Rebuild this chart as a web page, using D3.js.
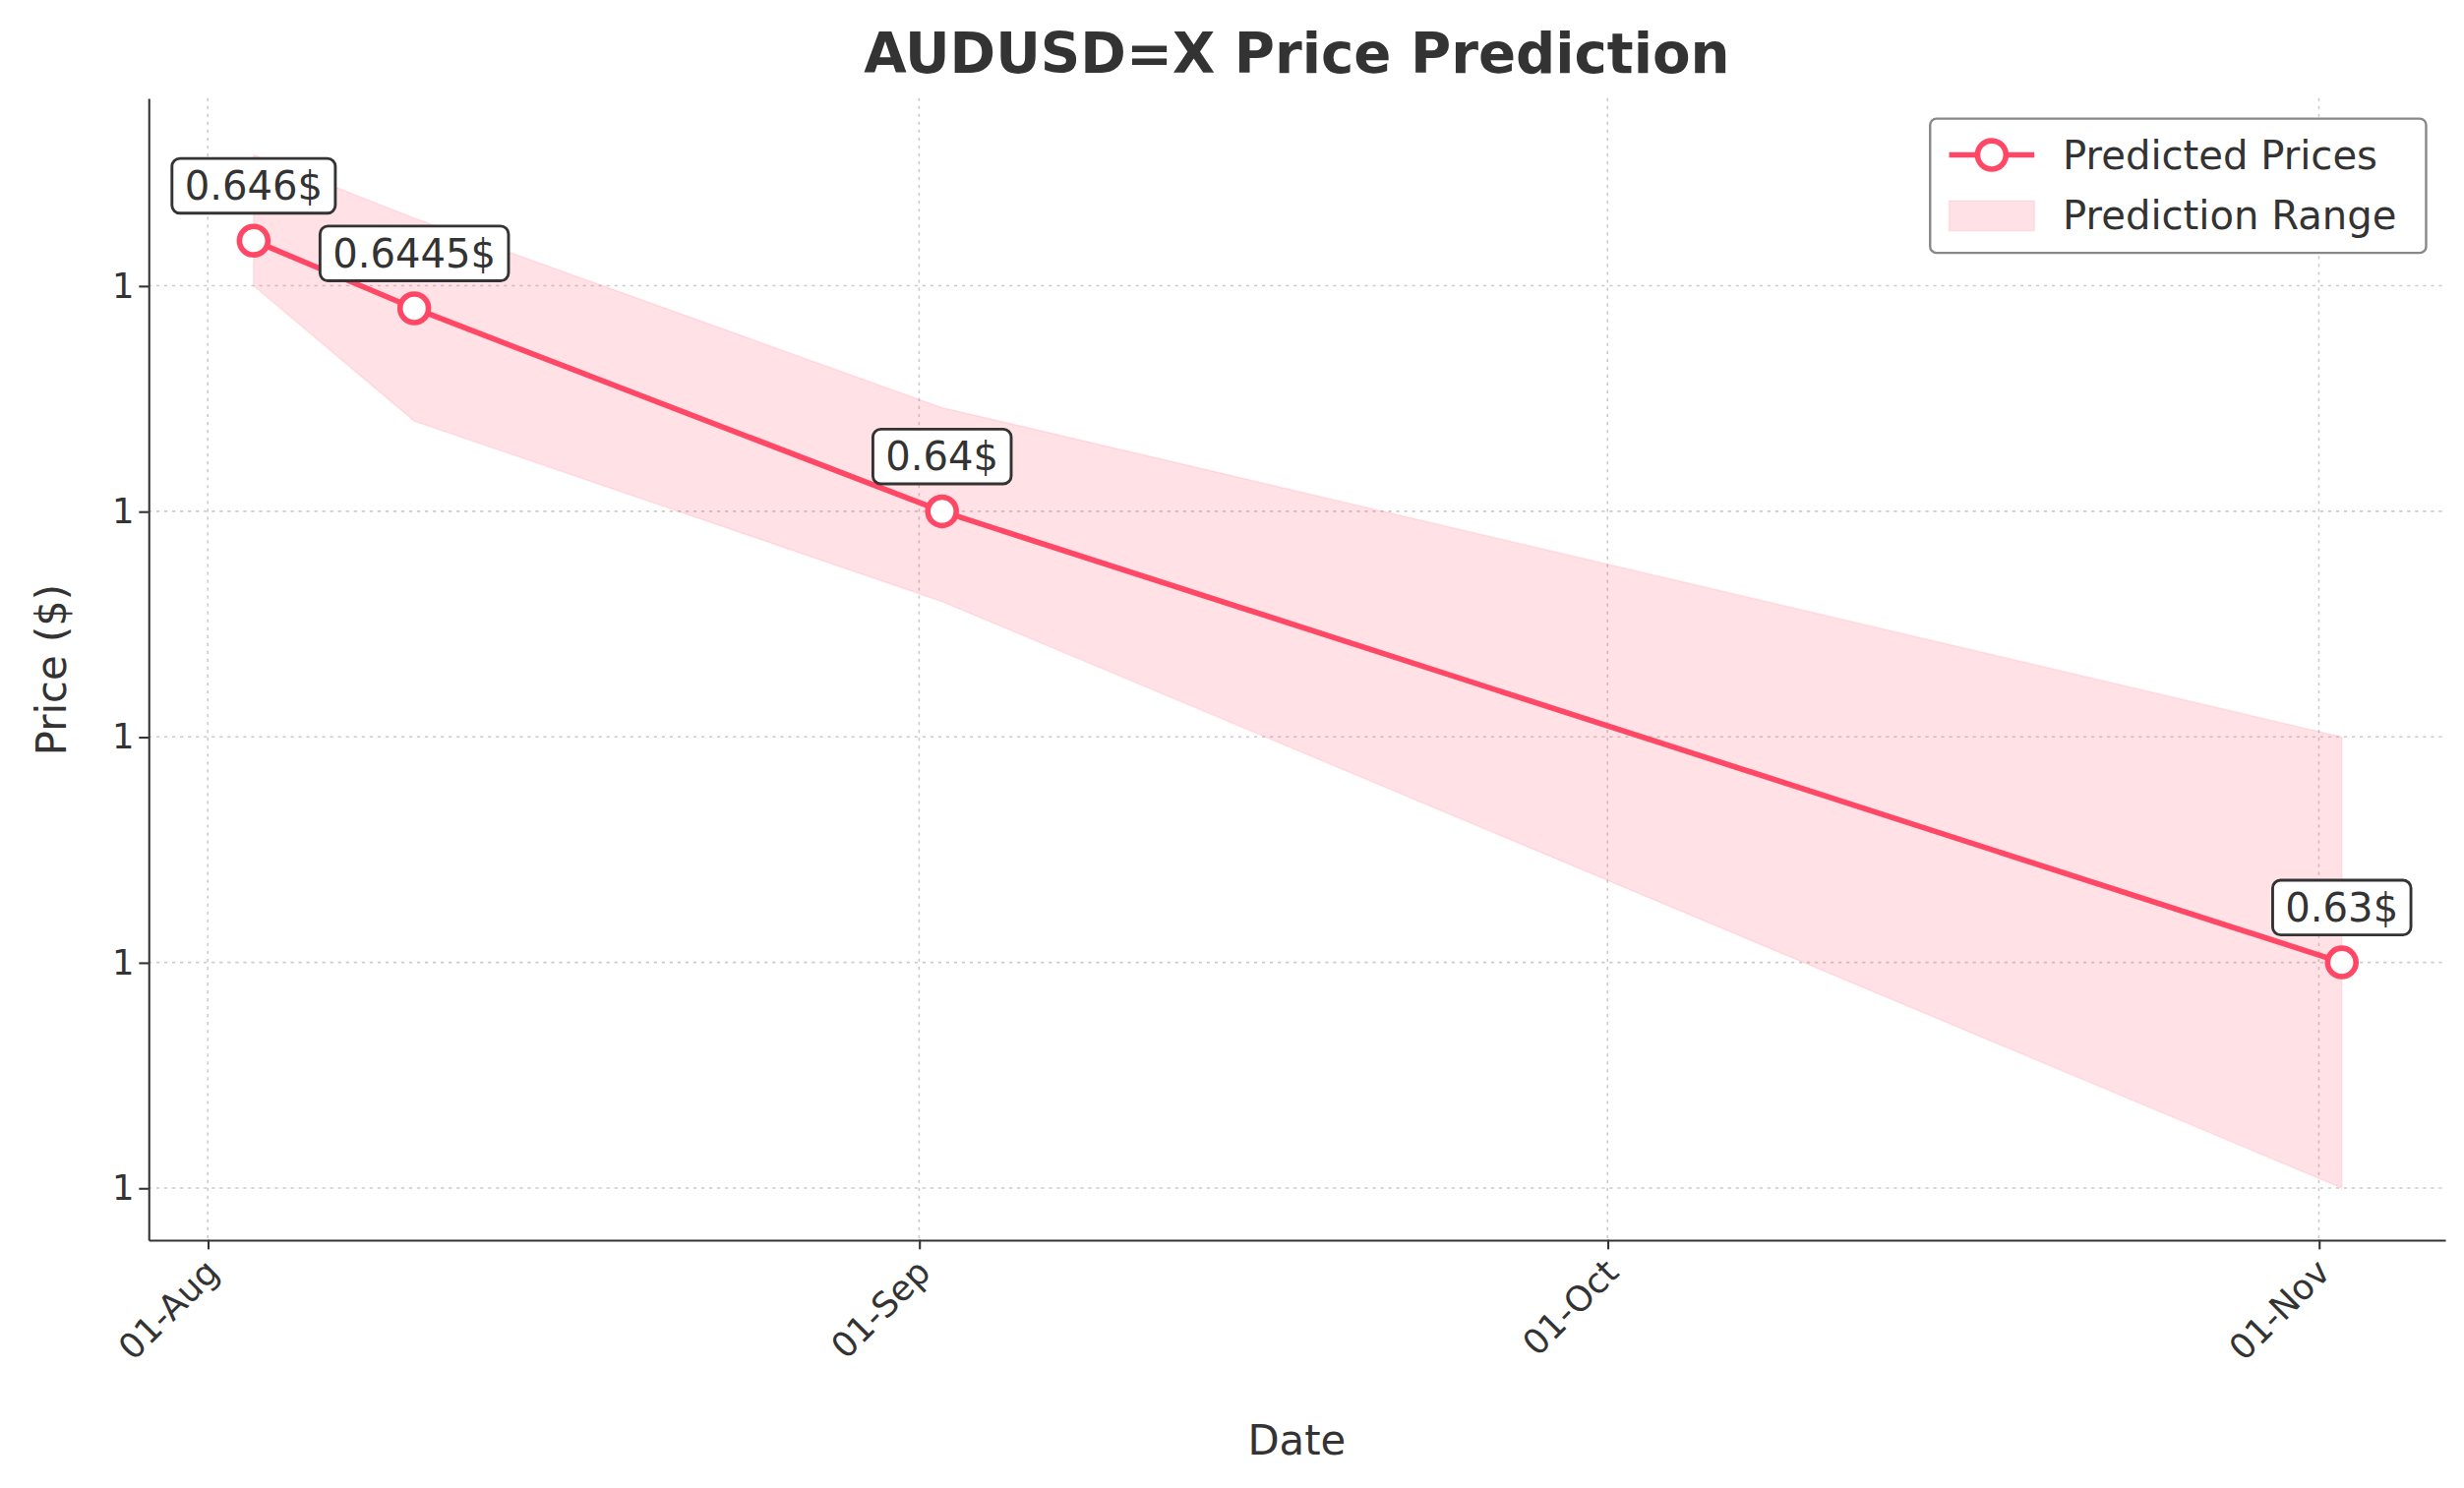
<!DOCTYPE html>
<html><head><meta charset="utf-8">
<script src="https://cdn.jsdelivr.net/npm/d3@7"></script>
<style>body{margin:0;background:#fff}text{font-family:"DejaVu Sans",sans-serif;fill:#333}</style>
</head><body><svg id="c" width="2505" height="1513" viewBox="0 0 1560 942"></svg>
<script>
// chart data
const dates = ["2024-08-03", "2024-08-10", "2024-09-02", "2024-11-02"];
const predicted = [0.646, 0.6445, 0.64, 0.63];
const upper = [0.6479, 0.6465, 0.6423, 0.635];
const lower = [0.645, 0.6420, 0.638, 0.625];
const labels = ["0.646$", "0.6445$", "0.64$", "0.63$"];
const yTicks = [0.625, 0.63, 0.635, 0.64, 0.645];
const xTicks = ["2024-08-01", "2024-09-01", "2024-10-01", "2024-11-01"];

const parse = d3.timeParse("%Y-%m-%d");
const rows = dates.map((d, i) => ({d: parse(d), p: predicted[i], hi: upper[i], lo: lower[i], l: labels[i]}));
const svg = d3.select("#c");
const m = {l: 94, r: 1548, t: 62, b: 785};
const x = d3.scaleTime().domain([new Date(2024, 6, 29, 10), new Date(2024, 10, 6, 12)]).range([m.l, m.r]);
const y = d3.scaleLinear().domain([0.62385, 0.64916]).range([m.b, m.t]);
const col = "#ff4766";

// grid
svg.append("g").selectAll("line").data(xTicks).join("line")
  .attr("x1", d => x(parse(d))).attr("x2", d => x(parse(d))).attr("y1", m.t).attr("y2", m.b)
  .attr("stroke", "#ccc").attr("stroke-dasharray", "2,3");
svg.append("g").selectAll("line").data(yTicks).join("line")
  .attr("x1", m.l).attr("x2", m.r).attr("y1", d => y(d)).attr("y2", d => y(d))
  .attr("stroke", "#ccc").attr("stroke-dasharray", "2,3");

// band
svg.append("path").datum(rows)
  .attr("d", d3.area().x(d => x(d.d)).y0(d => y(d.lo)).y1(d => y(d.hi)))
  .attr("fill", col).attr("fill-opacity", 0.16).attr("stroke", col).attr("stroke-opacity", 0.1);
svg.append("path").datum(rows)
  .attr("d", d3.line().x(d => x(d.d)).y(d => y(d.p)))
  .attr("fill", "none").attr("stroke", col).attr("stroke-width", 3.5);
svg.append("g").selectAll("circle").data(rows).join("circle")
  .attr("cx", d => x(d.d)).attr("cy", d => y(d.p)).attr("r", 9)
  .attr("fill", "#fff").attr("stroke", col).attr("stroke-width", 3.5);

// annotations
rows.forEach(d => {
  const g = svg.append("g");
  const t = g.append("text").attr("x", x(d.d)).attr("y", y(d.p) - 26).attr("text-anchor", "middle")
    .attr("font-size", 25).text(d.l);
  const b = t.node().getBBox();
  g.insert("rect", "text").attr("x", b.x - 8).attr("y", b.y - 3).attr("width", b.width + 16).attr("height", b.height + 6)
    .attr("rx", 5).attr("fill", "#fff").attr("stroke", "#333").attr("stroke-width", 1.8);
});

// axes
const xa = svg.append("g").attr("transform", `translate(0,${m.b})`)
  .call(d3.axisBottom(x).tickValues(xTicks.map(parse)).tickFormat(d3.timeFormat("%d-%b")).tickSize(6).tickSizeOuter(0));
xa.selectAll("text").attr("font-size", 22).attr("text-anchor", "end")
  .attr("transform", "translate(-4,10) rotate(-45)").attr("dy", "0.35em").attr("dx", 0);
const ya = svg.append("g").attr("transform", `translate(${m.l},0)`)
  .call(d3.axisLeft(y).tickValues(yTicks).tickFormat(d => d3.format(".0f")(d + 0.5)).tickSize(6).tickSizeOuter(0));
ya.selectAll("text").attr("font-size", 22);
svg.selectAll(".domain, .tick line").attr("stroke", "#333").attr("stroke-width", 1.3);

// titles
svg.append("text").attr("x", 821).attr("y", 46).attr("text-anchor", "middle").attr("font-size", 35)
  .attr("font-weight", "bold").text("AUDUSD=X Price Prediction");
svg.append("text").attr("x", 821).attr("y", 921).attr("text-anchor", "middle").attr("font-size", 26).text("Date");
svg.append("text").attr("transform", "translate(42,424) rotate(-90)").attr("text-anchor", "middle").attr("font-size", 26).text("Price ($)");

// legend
const lg = svg.append("g").attr("transform", "translate(1222,75)");
lg.append("rect").attr("width", 314).attr("height", 85).attr("rx", 4).attr("fill", "#fff").attr("stroke", "#888").attr("stroke-width", 1.5);
lg.append("line").attr("x1", 12).attr("x2", 66).attr("y1", 23).attr("y2", 23).attr("stroke", col).attr("stroke-width", 3.5);
lg.append("circle").attr("cx", 39).attr("cy", 23).attr("r", 9).attr("fill", "#fff").attr("stroke", col).attr("stroke-width", 3.5);
lg.append("rect").attr("x", 12).attr("y", 52).attr("width", 54).attr("height", 19).attr("fill", col).attr("fill-opacity", 0.16).attr("stroke", col).attr("stroke-opacity", 0.1);
lg.append("text").attr("x", 84).attr("y", 32).attr("font-size", 25).text("Predicted Prices");
lg.append("text").attr("x", 84).attr("y", 70).attr("font-size", 25).text("Prediction Range");
</script></body></html>
